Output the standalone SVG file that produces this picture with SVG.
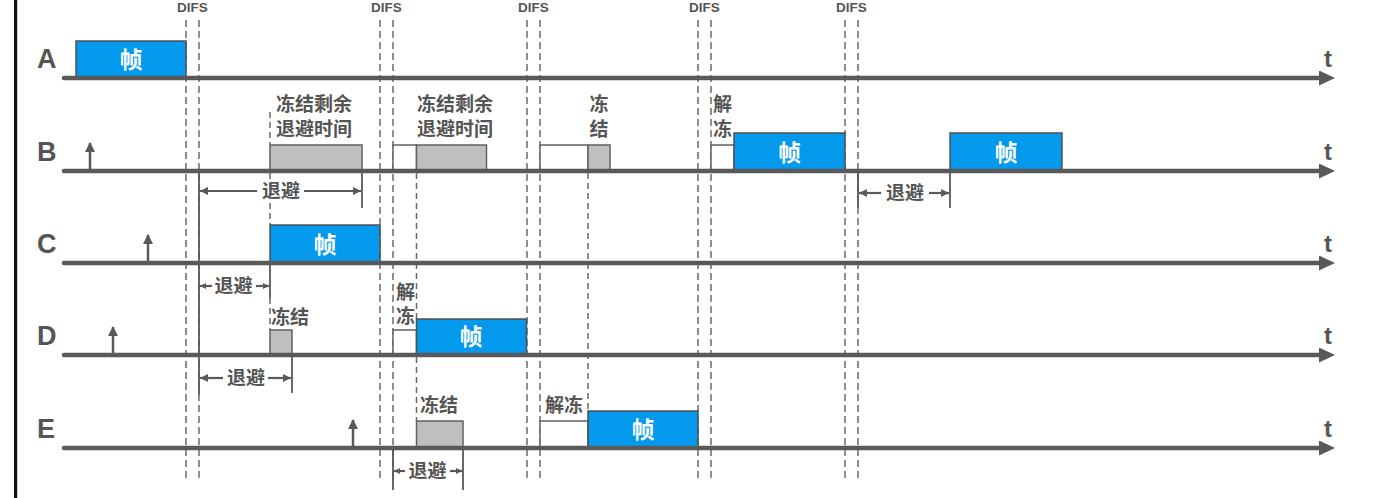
<svg xmlns="http://www.w3.org/2000/svg" width="1380" height="498" viewBox="0 0 1380 498">
<defs>
<style>
.axis{stroke:#595959;stroke-width:4.5;stroke-linecap:round;fill:none}
.difs{stroke:#6a6a6a;stroke-width:1.5;stroke-dasharray:7 4;fill:none}
.dash{stroke:#6a6a6a;stroke-width:1.5;stroke-dasharray:6 4;fill:none}
.tick{stroke:#595959;stroke-width:1.8;fill:none}
.brk{stroke:#595959;stroke-width:2.2;fill:none}
.up{stroke:#595959;stroke-width:2.5;fill:none}
.frame{fill:#0399ED;stroke:#505050;stroke-width:1.5}
.gray{fill:#BFBFBF;stroke:#606060;stroke-width:1.5}
.white{fill:#FFFFFF;stroke:#606060;stroke-width:1.5}
.row{font-family:"Liberation Sans",Arial,sans-serif;font-weight:bold;font-size:27px;fill:#555}
.t{font-family:"Liberation Sans",Arial,sans-serif;font-weight:bold;font-size:24px;fill:#555}
.difst{font-family:"Liberation Sans",Arial,sans-serif;font-weight:bold;font-size:13.5px;fill:#555;text-anchor:middle}
.zh{font-family:"Liberation Sans","Noto Sans CJK SC",sans-serif;font-weight:bold;font-size:19px;fill:#555}
.zhc{font-family:"Liberation Sans","Noto Sans CJK SC",sans-serif;font-weight:bold;font-size:19px;fill:#555;text-anchor:middle}
.fr{font-family:"Liberation Sans","Noto Sans CJK SC",sans-serif;font-weight:bold;font-size:23px;fill:#fff;text-anchor:middle}
</style>
<marker id="ah" viewBox="0 0 8 8" refX="8" refY="4" markerWidth="8" markerHeight="8" markerUnits="userSpaceOnUse" orient="auto"><path d="M0,0 L8,4 L0,8 z" fill="#595959"/></marker>
<marker id="ahs" viewBox="0 0 6 6" refX="6" refY="3" markerWidth="6" markerHeight="6" markerUnits="userSpaceOnUse" orient="auto"><path d="M0,0 L6,3 L0,6 z" fill="#595959"/></marker>
<marker id="uh" viewBox="0 0 10 10" refX="9" refY="5" markerWidth="10" markerHeight="10" markerUnits="userSpaceOnUse" orient="auto"><path d="M0,0 L10,5 L0,10 z" fill="#595959"/></marker>
<marker id="axh" viewBox="0 0 16 15" refX="3" refY="7.5" markerWidth="16" markerHeight="15" markerUnits="userSpaceOnUse" orient="auto"><path d="M0,0 L16,7.5 L0,15 z" fill="#595959"/></marker>
</defs>
<rect x="0" y="0" width="1380" height="498" fill="#fff"/>
<rect x="14" y="0" width="3.2" height="498" fill="#111"/>

<g id="difs">
<line class="difs" x1="186" y1="20" x2="186" y2="478"/>
<line class="difs" x1="199" y1="20" x2="199" y2="478"/>
<line class="difs" x1="380" y1="20" x2="380" y2="478"/>
<line class="difs" x1="393" y1="20" x2="393" y2="478"/>
<line class="difs" x1="527" y1="20" x2="527" y2="478"/>
<line class="difs" x1="540" y1="20" x2="540" y2="478"/>
<line class="difs" x1="698" y1="20" x2="698" y2="478"/>
<line class="difs" x1="711" y1="20" x2="711" y2="478"/>
<line class="difs" x1="845" y1="20" x2="845" y2="478"/>
<line class="difs" x1="858" y1="20" x2="858" y2="478"/>
<text class="difst" x="192.5" y="12">DIFS</text>
<text class="difst" x="386.5" y="12">DIFS</text>
<text class="difst" x="533.5" y="12">DIFS</text>
<text class="difst" x="704.5" y="12">DIFS</text>
<text class="difst" x="851.5" y="12">DIFS</text>
</g>

<g id="guides">
<line class="dash" x1="270" y1="112" x2="270" y2="145"/>
<line class="dash" x1="270" y1="173" x2="270" y2="225"/>
<line class="dash" x1="270" y1="298" x2="270" y2="330"/>
<line class="dash" x1="416.5" y1="173" x2="416.5" y2="319"/>
<line class="dash" x1="416.5" y1="357" x2="416.5" y2="421"/>
<line class="dash" x1="588" y1="173" x2="588" y2="411"/>
</g>

<g id="row-A">
<text class="row" x="37" y="68">A</text>
<rect class="frame" x="76" y="41" width="110" height="37"/>
<text class="fr" x="131" y="68">帧</text>
<line class="axis" x1="64" y1="78" x2="1322" y2="78" marker-end="url(#axh)"/>
<text class="t" x="1324" y="67">t</text>
</g>

<g id="row-B">
<text class="row" x="37" y="161">B</text>
<line class="up" x1="90" y1="171" x2="90" y2="143" marker-end="url(#uh)"/>
<rect class="gray" x="270" y="145" width="92" height="26"/>
<text class="zh" x="276" y="111">冻结剩余</text>
<text class="zh" x="276" y="136">退避时间</text>
<rect class="white" x="393" y="145" width="23.5" height="26"/>
<rect class="gray" x="416.5" y="145" width="70" height="26"/>
<text class="zh" x="417" y="111">冻结剩余</text>
<text class="zh" x="417" y="136">退避时间</text>
<rect class="white" x="540" y="145" width="48" height="26"/>
<rect class="gray" x="588" y="145" width="22" height="26"/>
<text class="zhc" x="599" y="111">冻</text>
<text class="zhc" x="599" y="136">结</text>
<rect class="white" x="711" y="145" width="23" height="26"/>
<rect class="frame" x="734" y="133" width="111" height="38"/>
<text class="zh" x="713" y="111">解</text>
<text class="zh" x="713" y="136">冻</text>
<text class="fr" x="789.5" y="161">帧</text>
<rect class="frame" x="950" y="133" width="112" height="38"/>
<text class="fr" x="1006" y="161">帧</text>
<line class="axis" x1="64" y1="171" x2="1322" y2="171" marker-end="url(#axh)"/>
<text class="t" x="1324" y="160">t</text>
</g>

<g id="row-C">
<text class="row" x="37" y="253">C</text>
<line class="up" x1="148" y1="263" x2="148" y2="235" marker-end="url(#uh)"/>
<rect class="frame" x="270" y="225" width="110" height="38"/>
<text class="fr" x="325" y="253">帧</text>
<line class="axis" x1="64" y1="263" x2="1322" y2="263" marker-end="url(#axh)"/>
<text class="t" x="1324" y="252">t</text>
</g>

<g id="row-D">
<text class="row" x="37" y="345">D</text>
<line class="up" x1="113" y1="355" x2="113" y2="327" marker-end="url(#uh)"/>
<rect class="gray" x="270" y="330" width="22" height="25"/>
<text class="zh" x="271" y="324">冻结</text>
<rect class="white" x="393" y="330" width="23.5" height="25"/>
<rect class="frame" x="416.5" y="319" width="110" height="36"/>
<text class="zh" x="396" y="299">解</text>
<text class="zh" x="396" y="323">冻</text>
<text class="fr" x="471" y="345">帧</text>
<line class="axis" x1="64" y1="355" x2="1322" y2="355" marker-end="url(#axh)"/>
<text class="t" x="1324" y="344">t</text>
</g>

<g id="row-E">
<text class="row" x="37" y="438">E</text>
<line class="up" x1="353" y1="448" x2="353" y2="420" marker-end="url(#uh)"/>
<rect class="gray" x="416.5" y="421" width="46.5" height="27"/>
<text class="zh" x="420" y="412">冻结</text>
<rect class="white" x="540" y="421" width="48" height="27"/>
<rect class="frame" x="588" y="411" width="110" height="37"/>
<text class="zh" x="545" y="412">解冻</text>
<text class="fr" x="643" y="438">帧</text>
<line class="axis" x1="64" y1="448" x2="1322" y2="448" marker-end="url(#axh)"/>
<text class="t" x="1324" y="437">t</text>
</g>

<g id="connectors">
<line class="tick" x1="199" y1="171" x2="199" y2="395"/>
<line class="tick" x1="362" y1="171" x2="362" y2="208"/>
<line class="tick" x1="270" y1="263" x2="270" y2="298"/>
<line class="tick" x1="292" y1="355" x2="292" y2="393"/>
<line class="tick" x1="393" y1="448" x2="393" y2="490"/>
<line class="tick" x1="463" y1="448" x2="463" y2="490"/>
<line class="tick" x1="858" y1="171" x2="858" y2="208"/>
<line class="tick" x1="950" y1="171" x2="950" y2="208"/>

<line class="brk" x1="257" y1="191" x2="200" y2="191" marker-end="url(#ah)"/>
<line class="brk" x1="304" y1="191" x2="361" y2="191" marker-end="url(#ah)"/>
<text class="zhc" x="281" y="198">退避</text>

<line class="brk" x1="212" y1="286" x2="200" y2="286" marker-end="url(#ahs)"/>
<line class="brk" x1="256" y1="286" x2="269" y2="286" marker-end="url(#ahs)"/>
<text class="zhc" x="233.5" y="293">退避</text>

<line class="brk" x1="223" y1="378" x2="200" y2="378" marker-end="url(#ah)"/>
<line class="brk" x1="268" y1="378" x2="291" y2="378" marker-end="url(#ah)"/>
<text class="zhc" x="246" y="385">退避</text>

<line class="brk" x1="405" y1="471" x2="394" y2="471" marker-end="url(#ahs)"/>
<line class="brk" x1="450" y1="471" x2="462" y2="471" marker-end="url(#ahs)"/>
<text class="zhc" x="427.5" y="478">退避</text>

<line class="brk" x1="881" y1="193" x2="859" y2="193" marker-end="url(#ah)"/>
<line class="brk" x1="929" y1="193" x2="949" y2="193" marker-end="url(#ah)"/>
<text class="zhc" x="905" y="200">退避</text>
</g>
</svg>
